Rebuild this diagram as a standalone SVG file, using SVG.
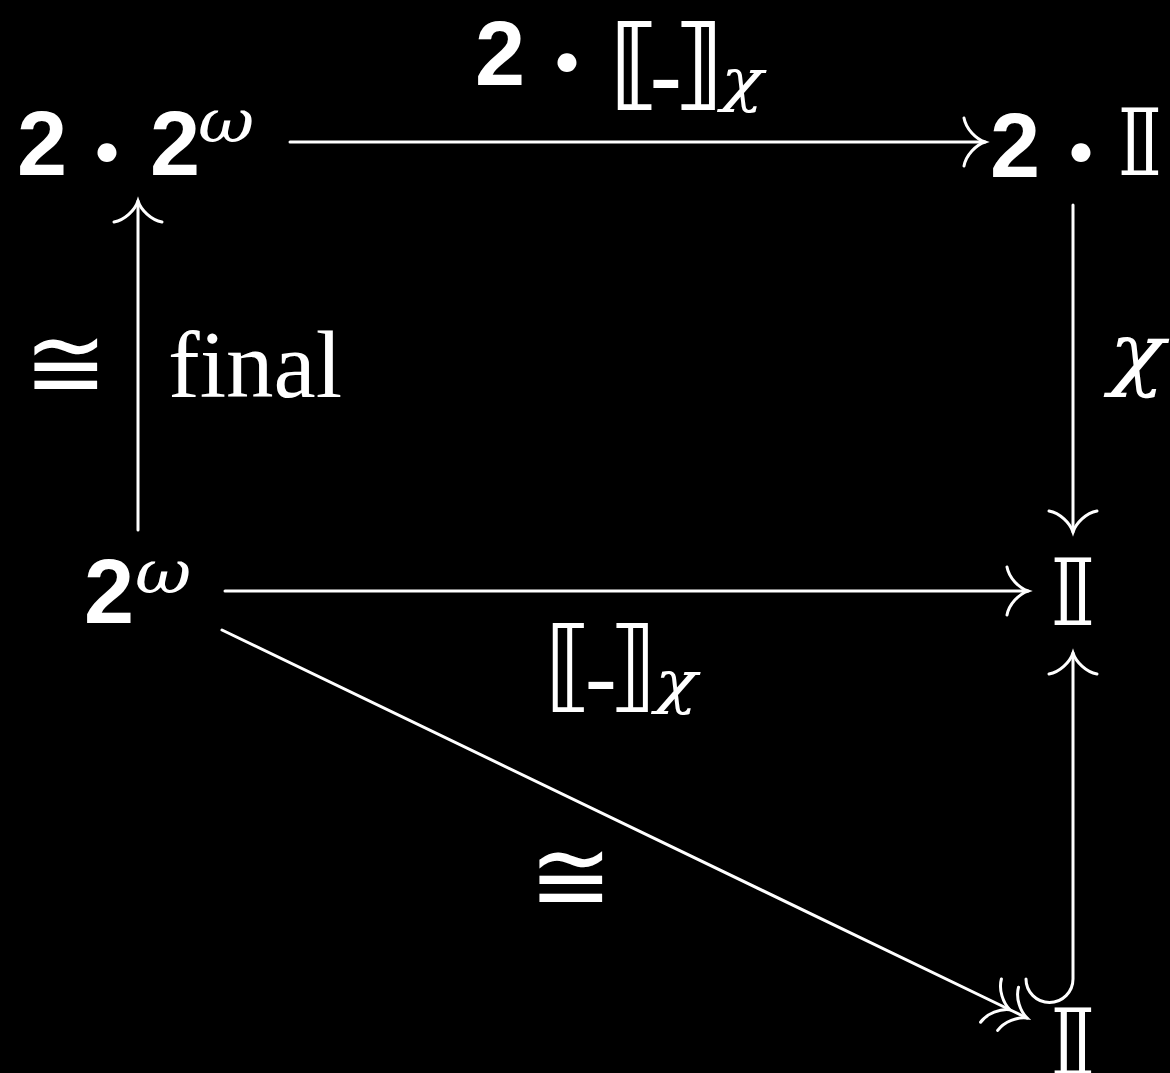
<svg xmlns="http://www.w3.org/2000/svg" width="1170" height="1073" viewBox="0 0 1170 1073">
<style>
text{fill:#fff}
.sf{font-family:"Liberation Sans",Arial,sans-serif;font-weight:bold;font-size:90px}
.dot{font-family:Lato,"DejaVu Sans",sans-serif;font-weight:bold;font-size:100px;text-anchor:middle}
.it{font-family:"DejaVu Serif","Liberation Serif",serif;font-style:italic}
.rm{font-family:"Liberation Serif","Times New Roman",serif;font-size:95px}
.bb{font-family:"DejaVu Sans",sans-serif;font-size:92px;text-anchor:middle}
.br{font-family:"DejaVu Sans",sans-serif;font-size:100px}
.cong{font-family:"DejaVu Sans",sans-serif;font-size:100px;text-anchor:middle}
.dash{font-family:"Liberation Serif","Times New Roman",serif;font-size:95px}
.ln{fill:none;stroke:#fff;stroke-width:3;stroke-linecap:round}
</style>
<defs>
<marker id="ah" markerUnits="userSpaceOnUse" markerWidth="40" markerHeight="60" viewBox="-30 -30 40 60" refX="0" refY="0" orient="auto" overflow="visible">
<path d="M-21,-24 C-19,-13 -9,-3 0,0 C-9,3 -19,13 -21,24" fill="none" stroke="#fff" stroke-width="3" stroke-linecap="round"/>
</marker>
</defs>
<rect x="0" y="0" width="1170" height="1073" fill="#000"/>

<g id="n-2-2w">
<text class="sf" x="17" y="175">2</text>
<text class="dot" x="107" y="182">·</text>
<text class="sf" x="150" y="175">2</text>
<text class="it" transform="translate(198,142) scale(1.15,1)" x="0" y="0" font-size="60">ω</text>
</g>

<g id="n-2-I">
<text class="sf" x="990" y="177">2</text>
<text class="dot" x="1081" y="182">·</text>
<text class="bb" transform="translate(1140,175) scale(1.35,1)" x="0" y="0">𝕀</text>
</g>

<g id="n-2w">
<text class="sf" x="84" y="623">2</text>
<text class="it" transform="translate(135,593) scale(1.15,1)" x="0" y="0" font-size="60">ω</text>
</g>

<g id="n-I-mid">
<text class="bb" transform="translate(1073,625) scale(1.35,1)" x="0" y="0">𝕀</text>
</g>

<g id="n-I-bot">
<text class="bb" transform="translate(1073,1075) scale(1.35,1)" x="0" y="0">𝕀</text>
</g>

<g id="connectors">
<path class="ln" d="M290,142 L985,142" marker-end="url(#ah)"/>
<path class="ln" d="M138,530 L138,201" marker-end="url(#ah)"/>
<path class="ln" d="M1073,205 L1073,532" marker-end="url(#ah)"/>
<path class="ln" d="M225,591 L1028,591" marker-end="url(#ah)"/>
<path class="ln" d="M1026,979 A23.5,23.5 0 0 0 1073,979 L1073,653" marker-end="url(#ah)"/>
<path class="ln" d="M222,630 L1009.9,1009.75 L1027,1018" marker-mid="url(#ah)" marker-end="url(#ah)"/>
</g>

<g id="labels">
<text id="l-top" class="sf" x="475" y="85">2<tspan class="dot" x="567" y="92">·</tspan><tspan class="br" x="609" y="97">⟦</tspan><tspan class="dash" x="650" y="106">-</tspan><tspan class="br" x="673" y="97">⟧</tspan></text>
<text class="it" transform="translate(721,100) scale(1.2,1)" x="0" y="0" font-size="58">χ</text>

<text class="cong" x="66" y="398">≅</text>
<text class="rm" x="168" y="397">final</text>

<text class="it" transform="translate(1109,380) scale(1.15,1)" x="0" y="0" font-size="80">χ</text>

<text id="l-mid" class="br" x="544" y="699">⟦<tspan class="dash" x="585" y="708">-</tspan><tspan class="br" x="608" y="699">⟧</tspan></text>
<text class="it" transform="translate(655,702) scale(1.2,1)" x="0" y="0" font-size="58">χ</text>

<text class="cong" x="571" y="911">≅</text>
</g>
</svg>
